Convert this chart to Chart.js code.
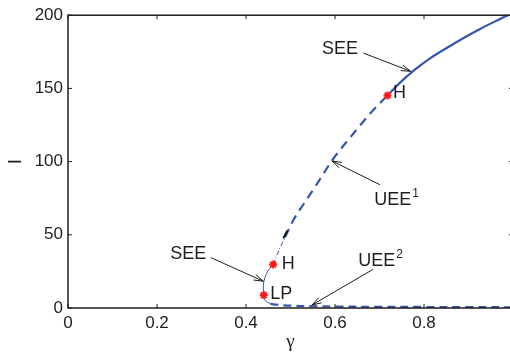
<!DOCTYPE html>
<html lang="en">
<head>
  <meta charset="UTF-8">
  <title>Bifurcation diagram</title>
  <script src="https://cdn.jsdelivr.net/npm/chart.js@4.4.0/dist/chart.umd.min.js"></script>
  <style>
    html, body { margin: 0; padding: 0; background: #fff; overflow: hidden; }
    #wrap { width: 510px; height: 352px; overflow: hidden; }
  </style>
</head>
<body>
  <div id="wrap"><canvas id="chart" width="520" height="352"></canvas></div>

  <script>
    // --- branches of the equilibrium curve (gamma, I) ---
    // upper stable branch
    const seeHighX = [0.718, 0.745, 0.776, 0.812, 0.851, 0.89, 0.926, 0.96, 0.989, 1.0];
    const seeHighY = [145.2, 153.6, 162.0, 170.2, 177.6, 184.6, 190.6, 195.8, 200.0, 201.5];
    // unstable branch between the two Hopf points
    const uee1X = [0.488, 0.506, 0.53, 0.555, 0.575, 0.593, 0.613, 0.634, 0.657, 0.679, 0.70, 0.718];
    const uee1Y = [48.4, 59.8, 71.2, 82.6, 92.2, 100.6, 108.6, 116.4, 125.0, 132.8, 139.6, 145.2];
    // dash-dot piece just above the lower Hopf point
    const dashDotX = [0.461, 0.47, 0.478, 0.488];
    const dashDotY = [29.7, 36.4, 42.2, 48.4];
    // short black piece
    const blackX = [0.484, 0.493];
    const blackY = [47.6, 53.0];
    // lower stable branch, LP -> H
    const seeLowX = [0.44, 0.439, 0.44, 0.446, 0.453, 0.461];
    const seeLowY = [8.8, 13.0, 18.0, 23.5, 27.0, 29.7];
    // fold turning back from LP
    const foldX = [0.44, 0.441, 0.446, 0.455];
    const foldY = [8.8, 6.0, 4.3, 3.0];
    // lower unstable branch along the axis
    const uee2X = [0.455, 0.461, 0.48, 0.5, 0.55, 0.6, 0.7, 0.8, 0.9, 1.0];
    const uee2Y = [3.0, 2.5, 1.9, 1.6, 1.2, 1.0, 0.8, 0.7, 0.6, 0.5];
    // special points: LP, H, H
    const specialX = [0.44, 0.461, 0.718];
    const specialY = [8.8, 29.7, 145.2];

    // ticks
    const xTicks = [0, 0.2, 0.4, 0.6, 0.8, 1];
    const xTickLabels = ['0', '0.2', '0.4', '0.6', '0.8', ''];
    const yTicks = [0, 50, 100, 150, 200];

    // text labels (data coords of the text centre)
    const labelText = ['SEE', 'UEE', 'SEE', 'UEE', 'H', 'H', 'LP'];
    const labelSup = ['', '1', '', '2', '', '', ''];
    const labelX = [0.611, 0.730, 0.270, 0.694, 0.745, 0.495, 0.479];
    const labelY = [176.8, 74.0, 36.7, 32.1, 147.0, 29.7, 9.5];

    // arrows from the labels to the curve
    const arrowFromX = [0.664, 0.701, 0.321, 0.685];
    const arrowFromY = [174.1, 84.2, 34.4, 26.3];
    const arrowToX = [0.770, 0.593, 0.439, 0.548];
    const arrowToY = [161.7, 100.5, 18.3, 2.0];

    const blue = '#3456ad';
    const ink = '#1e1e1e';

    function pts(xs, ys) {
      return xs.map((x, i) => ({ x: x, y: ys[i] }));
    }

    function line(xs, ys, color, width, dash) {
      return {
        data: pts(xs, ys),
        showLine: true,
        borderColor: color,
        borderWidth: width,
        borderDash: dash || [],
        pointRadius: 0,
        tension: 0.35,
        fill: false
      };
    }

    function arrow(ctx, x0, y0, x1, y1) {
      const a = Math.atan2(y1 - y0, x1 - x0);
      const len = 10, spread = 0.3;
      ctx.beginPath();
      ctx.moveTo(x0, y0);
      ctx.lineTo(x1, y1);
      ctx.moveTo(x1 - len * Math.cos(a - spread), y1 - len * Math.sin(a - spread));
      ctx.lineTo(x1, y1);
      ctx.lineTo(x1 - len * Math.cos(a + spread), y1 - len * Math.sin(a + spread));
      ctx.stroke();
    }

    // frame, inward ticks and annotations
    const overlay = {
      id: 'overlay',
      afterDraw(chart) {
        const ctx = chart.ctx, area = chart.chartArea;
        const sx = chart.scales.x, sy = chart.scales.y;
        const px = v => sx.getPixelForValue(v);
        const py = v => sy.getPixelForValue(v);
        ctx.save();

        ctx.strokeStyle = ink;
        ctx.lineWidth = 1.5;
        ctx.strokeRect(area.left, area.top, area.right - area.left, area.bottom - area.top);

        ctx.lineWidth = 1;
        ctx.beginPath();
        xTicks.forEach(v => {
          const x = px(v);
          ctx.moveTo(x, area.bottom); ctx.lineTo(x, area.bottom - 4);
          ctx.moveTo(x, area.top); ctx.lineTo(x, area.top + 4);
        });
        yTicks.forEach(v => {
          const y = py(v);
          ctx.moveTo(area.left, y); ctx.lineTo(area.left + 4, y);
          ctx.moveTo(area.right, y); ctx.lineTo(area.right - 4, y);
        });
        ctx.stroke();

        // arrows
        arrowFromX.forEach((v, i) => {
          arrow(ctx, px(v), py(arrowFromY[i]), px(arrowToX[i]), py(arrowToY[i]));
        });

        // labels
        ctx.fillStyle = ink;
        ctx.textBaseline = 'middle';
        labelText.forEach((t, i) => {
          const x = px(labelX[i]), y = py(labelY[i]);
          ctx.font = '18px "Liberation Sans", Arial, sans-serif';
          ctx.textAlign = 'center';
          ctx.fillText(t, x, y);
          if (labelSup[i]) {
            const w = ctx.measureText(t).width;
            ctx.font = '12px "Liberation Sans", Arial, sans-serif';
            ctx.textAlign = 'left';
            ctx.fillText(labelSup[i], x + w / 2 + 1, y - 6);
          }
        });

        ctx.restore();
      }
    };

    const tickFont = { family: '"Liberation Sans", Arial, sans-serif', size: 17 };

    new Chart(document.getElementById('chart'), {
      type: 'scatter',
      data: {
        datasets: [
          {
            data: pts(specialX, specialY),
            pointStyle: 'star',
            pointRadius: 4,
            borderColor: '#ff1a1a',
            backgroundColor: '#ff1a1a',
            borderWidth: 2,
            showLine: false
          },
          line(blackX, blackY, '#111111', 2),
          line(seeHighX, seeHighY, blue, 2.2),
          line(uee1X, uee1Y, blue, 2.2, [9, 6]),
          line(dashDotX, dashDotY, blue, 1, [5, 2, 1, 2]),
          line(seeLowX, seeLowY, blue, 1),
          line(foldX, foldY, blue, 1),
          line(uee2X, uee2Y, blue, 2.2, [8, 5])
        ]
      },
      options: {
        responsive: false,
        animation: false,
        devicePixelRatio: 1,
        events: [],
        layout: { padding: { top: 13.5, right: 7, bottom: 0, left: 0 } },
        plugins: { legend: { display: false }, tooltip: { enabled: false } },
        scales: {
          x: {
            type: 'linear',
            min: 0,
            max: 1,
            afterBuildTicks: s => { s.ticks = xTicks.map(v => ({ value: v })); },
            afterFit: s => { s.height = 44; },
            ticks: {
              callback: (v, i) => xTickLabels[i],
              font: tickFont,
              color: ink,
              padding: 5,
              maxRotation: 0,
              autoSkip: false
            },
            title: {
              display: true,
              text: '\u03b3',
              color: ink,
              font: { family: '"Liberation Serif", serif', size: 19, lineHeight: 1 },
              padding: { top: 0, bottom: 0.5 }
            },
            grid: { display: false, drawTicks: false },
            border: { display: false }
          },
          y: {
            type: 'linear',
            min: 0,
            max: 200,
            afterBuildTicks: s => { s.ticks = yTicks.map(v => ({ value: v })); },
            afterFit: s => { s.width = 68; },
            ticks: { font: tickFont, color: ink, padding: 5 },
            title: {
              display: true,
              text: 'I',
              color: ink,
              font: { family: '"Liberation Sans", Arial, sans-serif', size: 19, lineHeight: 1 },
              padding: { top: 6.5, bottom: 0 }
            },
            grid: { display: false, drawTicks: false },
            border: { display: false }
          }
        }
      },
      plugins: [overlay]
    });
  </script>
</body>
</html>
